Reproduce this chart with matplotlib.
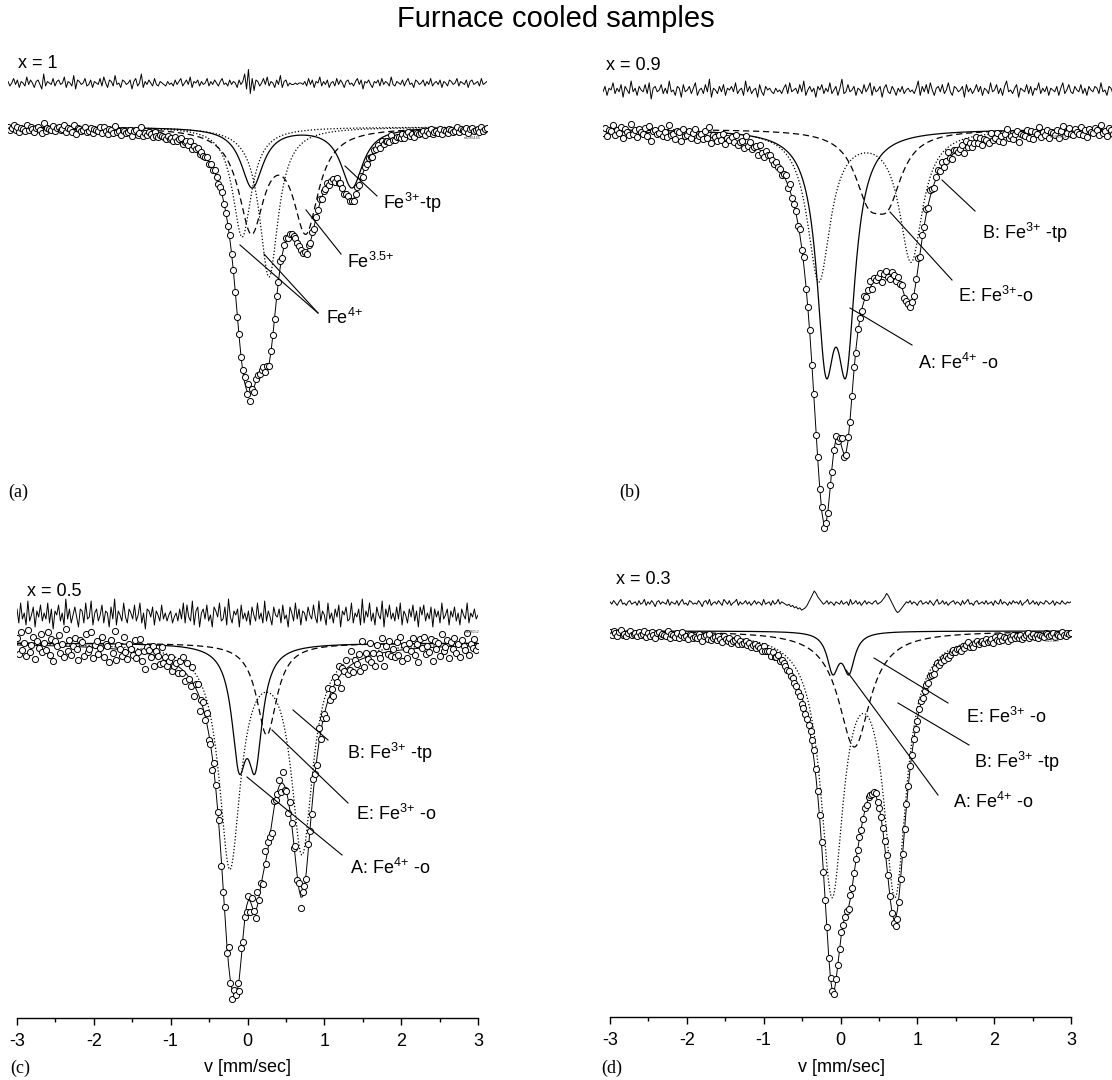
import matplotlib
matplotlib.use("Agg")
import matplotlib.pyplot as plt
import numpy as np

plt.rcParams['font.family'] = ['Liberation Sans', 'DejaVu Sans']
plt.rcParams['mathtext.fontset'] = 'custom'
plt.rcParams['mathtext.rm'] = 'Liberation Sans'
plt.rcParams['mathtext.it'] = 'Liberation Sans'
plt.rcParams['axes.unicode_minus'] = False

W, H = 1112, 1080

# Lorentzian lines: (position mm/s, depth %, FWHM mm/s)
# (a) x = 1
a_fe3_tp = [(0.06, 6.0, 0.35), (1.36, 6.0, 0.35)]
a_fe35 = [(0.05, 10.0, 0.40), (0.76, 10.0, 0.40)]
a_fe4_1 = [(-0.07, 11.0, 0.30)]
a_fe4_2 = [(0.28, 15.0, 0.30)]
# (b) x = 0.9
b_fe4_o = [(-0.39, 20.2, 0.26), (-0.15, 20.2, 0.26)]
b_fe3_tp = [(-0.47, 15.0, 0.33), (0.61, 13.0, 0.33)]
b_fe3_o = [(0.11, 5.5, 0.40), (0.34, 5.8, 0.40)]
# (c) x = 0.5
c_fe3_tp = [(-0.11, 10.6, 0.23), (0.10, 10.6, 0.23)]
c_fe3_o = [(0.25, 9.2, 0.32)]
c_fe4_o = [(-0.23, 22.0, 0.34), (0.71, 20.5, 0.34)]
# (d) x = 0.3
d_fe3_tp = [(-0.10, 3.8, 0.18), (0.11, 3.8, 0.18)]
d_fe3_o = [(0.18, 11.6, 0.50)]
d_fe4_o = [(-0.11, 25.5, 0.36), (0.71, 25.5, 0.36)]

# residuals of the fits (256 channels, arbitrary units)
a_res = [1,-2,0,3,-1,2,-3,1,0,-2,4,-1,2,0,-3,1,
         2,-1,-4,6,-2,1,0,-1,3,-2,1,2,-1,0,4,-3,
         1,0,-2,5,-4,2,1,-1,0,3,-2,-1,2,-3,1,0,
         -1,3,-2,4,0,-3,2,1,-2,5,-1,0,-3,2,1,-1,
         0,2,-4,1,3,-2,0,6,-3,1,-1,2,0,-2,3,-1,
         -2,1,0,-1,-2,1,-1,0,-2,2,-1,1,3,-2,0,2,
         -1,4,-3,1,0,2,-2,1,-1,0,3,-2,1,-1,2,0,
         -2,1,3,-1,0,-2,2,-1,1,0,-3,2,-1,1,6,-4,
         9,-7,3,-5,2,1,-2,0,3,-1,4,-2,1,0,-3,2,
         -1,5,-3,1,2,-2,0,-1,-1,0,-1,0,0,-1,1,-2,
         3,-1,2,-3,1,0,4,-2,1,-1,2,-3,0,1,-2,3,
         -1,2,0,-3,1,2,-1,0,-2,1,3,-1,2,-4,1,0,
         2,-1,-3,1,0,2,-2,3,-1,1,0,-2,4,-1,-2,1,
         0,-1,2,-2,1,3,-1,0,-3,2,1,-1,0,2,-2,1,
         -1,3,-2,0,1,-1,2,-3,1,0,-2,2,1,-1,0,3,
         -2,1,0,-1,2,-3,1,2,-1,0,1,-2,3,-1,0,1]
b_res = [-1,2,-3,1,0,4,-2,1,-1,3,-4,2,0,-2,5,-1,
         1,-3,2,0,-1,3,-2,4,-5,1,2,-1,0,3,-2,1,
         -2,5,-1,0,-3,2,1,-4,3,-1,0,2,-2,1,4,-3,
         0,1,-2,3,-1,6,-4,1,0,-2,2,-1,3,-3,1,0,
         2,-1,4,-2,0,1,-3,5,-1,2,-2,0,1,-4,3,-1,
         -3,2,0,1,-1,-2,1,-1,0,-2,1,3,-2,4,-1,0,
         1,-2,3,-1,5,-3,0,2,-1,1,-4,2,0,3,-2,1,
         -1,4,-2,0,2,-3,1,6,-2,-1,3,-1,0,2,-3,1,
         0,-2,3,-1,1,4,-3,2,-1,0,2,-4,1,3,-1,-2,
         2,0,-3,1,-1,2,-2,0,1,-1,0,-2,1,5,-3,2,
         -1,3,-2,4,0,-3,1,2,-1,3,-2,0,4,-1,-3,2,
         1,-1,0,2,-4,3,-1,1,-2,0,3,-1,2,-3,1,0,
         -2,4,-1,0,3,-2,1,-3,2,5,-1,0,-2,1,3,-4,
         1,0,-1,3,-2,2,-3,1,0,4,-2,1,-1,2,-3,1,
         0,-1,2,-3,1,4,-2,0,3,-1,-2,2,0,-1,3,-2,
         1,-3,2,0,-1,2,1,-2,4,-1,0,-3,2,1,-2,0]
c_res = [3,-4,6,-2,1,-5,7,-3,0,4,-6,2,-1,5,-3,1,
         -2,6,-4,3,-7,2,0,5,-3,1,-5,8,-2,3,-4,0,
         4,-1,-6,3,2,-4,6,-2,-1,7,-5,1,3,-3,0,5,
         -4,2,1,-6,4,-2,8,-5,2,0,-3,6,-1,-4,3,1,
         -2,5,-3,0,6,-4,1,-7,3,2,-1,4,-5,2,0,-3,
         5,-2,1,-3,0,2,-4,-1,1,-3,3,-2,6,-4,5,-1,
         -3,7,-5,2,4,-6,1,3,-2,5,-3,0,-6,4,2,-1,
         6,-3,-2,4,-5,8,-1,-4,2,0,3,-6,5,-2,1,-3,
         2,-5,4,0,-3,6,-2,1,-4,7,-3,2,-1,-5,4,0,
         -1,3,-4,5,-2,0,-6,4,1,-3,6,-2,3,-5,2,1,
         -3,4,0,-2,5,-1,-4,7,-3,2,0,-5,6,-2,1,-4,
         3,-1,5,-6,2,0,4,-3,-2,6,-4,1,-1,3,-5,8,
         -4,2,-1,6,-3,1,-5,4,0,-2,7,-6,3,-1,5,-2,
         1,-3,4,-2,6,-5,2,0,-4,3,-1,5,-3,2,-6,4,
         0,5,-3,1,-2,4,-6,3,-1,2,-4,6,-2,0,3,-5,
         2,-1,4,-3,1,-5,3,0,-2,6,-4,1,-1,3,-2,0]
d_res = [1,-1,2,0,-2,1,3,-1,0,-2,1,2,-1,0,1,-2,
         2,-1,0,3,-2,1,-1,2,0,-3,1,2,-1,1,0,-1,
         3,-2,1,0,-1,2,-2,1,3,-1,0,-2,2,1,-1,0,
         -1,2,0,-3,1,2,-1,3,-2,0,1,-1,2,0,-2,3,
         1,-1,2,-2,0,1,3,-2,1,-1,0,2,-1,1,-2,0,
         2,-1,1,0,-2,3,-1,0,1,-2,2,-1,0,3,-1,1,
         0,-1,-2,-1,-3,-2,-4,-3,-5,-4,-6,-5,-4,-2,1,4,
         7,10,8,5,3,1,-1,0,2,-1,1,0,-2,1,0,-1,
         2,-1,0,1,-2,3,-1,0,2,-1,1,-2,0,2,-1,1,
         0,-1,1,2,-1,0,1,3,5,8,6,3,0,-3,-6,-8,
         -7,-5,-3,-1,1,0,2,-1,1,0,-2,1,2,-1,0,1,
         -1,2,0,-2,1,3,-1,0,2,-1,1,-2,0,1,2,-1,
         1,0,-2,2,-1,1,3,-1,0,-2,1,2,-1,0,1,-1,
         2,-1,0,1,-2,2,0,-1,3,-1,1,0,-2,1,-1,2,
         0,1,-1,2,-2,0,1,3,-1,0,2,-1,1,-2,1,0,
         -1,2,1,-1,0,2,-2,1,0,-1,2,0,-1,1,0,1]


def absorption(v, lines):
    out = np.zeros_like(v)
    for pos, depth, fwhm in lines:
        hw = fwhm / 2.0
        out += depth * hw ** 2 / ((v - pos) ** 2 + hw ** 2)
    return out


SOLID = dict(color='black', lw=0.9, ls='-')
DASH = dict(color='black', lw=0.9, ls=(0, (5, 3)))
DOT = dict(color='black', lw=0.9, ls=(0, (1, 1.6)))

fig = plt.figure(figsize=(W / 100, H / 100), dpi=100)


def px_axes(l, r, t, b):
    return fig.add_axes([l / W, 1 - b / H, (r - l) / W, (b - t) / H])


panels = [
    dict(box=(8, 487, 40, 430), xlim=(-3.12, 3.12), base=127,
         comps=[(a_fe3_tp, SOLID), (a_fe35, DASH), (a_fe4_1, DOT), (a_fe4_2, DOT)],
         res=a_res, roff=4.4, rg=0.15, dg=0.10, scale=0.95, axis=False),
    dict(box=(603, 1115, 40, 540), xlim=(-3.0, 3.0), base=129,
         comps=[(b_fe4_o, SOLID), (b_fe3_tp, DOT), (b_fe3_o, DASH)],
         res=b_res, roff=3.9, rg=0.18, dg=0.16, scale=1.03, axis=False),
    dict(box=(17, 478, 560, 1018), xlim=(-3.0, 3.0), base=643,
         comps=[(c_fe3_tp, SOLID), (c_fe3_o, DASH), (c_fe4_o, DOT)],
         res=c_res, roff=2.8, rg=0.20, dg=0.22, scale=1.12, axis=True),
    dict(box=(610, 1071, 560, 1017), xlim=(-3.0, 3.0), base=631,
         comps=[(d_fe3_tp, SOLID), (d_fe3_o, DASH), (d_fe4_o, DOT)],
         res=d_res, roff=2.8, rg=0.12, dg=0.12, scale=1.0, axis=True),
]

for p in panels:
    l, r, t, b = p['box']
    ax = px_axes(l, r, t, b)
    ax.set_xlim(*p['xlim'])
    ax.set_ylim(100 - (b - p['base']) / 10.0, 100 + (p['base'] - t) / 10.0)
    v = np.linspace(p['xlim'][0], p['xlim'][1], 256)
    vf = np.linspace(p['xlim'][0], p['xlim'][1], 1500)
    total = np.zeros_like(v)
    for lines, st in p['comps']:
        ax.plot(vf, 100 - absorption(vf, lines), **st)
        total += absorption(v, lines)
    res = np.array(p['res'], dtype=float)
    fit = 100 - p['scale'] * total
    ax.plot(v, fit, color='black', lw=0.7)
    ax.plot(v, fit + res * p['dg'], ls='none', marker='o', ms=4.4,
            mfc='white', mec='black', mew=0.7)
    ax.plot(v, 100 + p['roff'] + res * p['rg'], color='black', lw=0.7)
    for s in ['top', 'left', 'right']:
        ax.spines[s].set_visible(False)
    ax.set_yticks([])
    if p['axis']:
        ax.spines['bottom'].set_linewidth(1.0)
        ax.set_xticks(np.arange(-3, 4, 1))
        ax.set_xticks(np.arange(-2.5, 3, 1), minor=True)
        ax.set_xticklabels([str(k) for k in range(-3, 4)], fontsize=13)
        ax.tick_params(axis='x', which='major', direction='out', length=5, width=1, pad=6)
        ax.tick_params(axis='x', which='minor', direction='out', length=3, width=1)
    else:
        ax.spines['bottom'].set_visible(False)
        ax.set_xticks([])
    ax.patch.set_alpha(0)

# overlay in figure pixels for labels and leader lines
ov = fig.add_axes([0, 0, 1, 1])
ov.set_xlim(0, W)
ov.set_ylim(H, 0)
ov.axis('off')
ov.patch.set_alpha(0)

ov.text(556, 19, 'Furnace cooled samples', fontsize=21, ha='center', va='center')
for txt, x, y in [('x = 1', 18, 64), ('x = 0.9', 606, 66), ('x = 0.5', 27, 592), ('x = 0.3', 616, 580)]:
    ov.text(x, y, txt, fontsize=13, ha='left', va='center')
for txt, x, y in [('(a)', 8, 492), ('(b)', 619, 492), ('(c)', 10, 1068), ('(d)', 601, 1068)]:
    ov.text(x, y, txt, fontsize=13, ha='left', va='center', family='Liberation Serif')
for x in (247, 841):
    ov.text(x, 1068, 'v [mm/sec]', fontsize=13, ha='center', va='center')

labels = [
    (r'Fe$^{3{+}}$-tp', 383, 203), (r'Fe$^{3.5{+}}$', 347, 262), (r'Fe$^{4{+}}$', 326, 318),
    (r'B: Fe$^{3{+}}$ -tp', 982, 233), (r'E: Fe$^{3{+}}$-o', 958, 296), (r'A: Fe$^{4{+}}$ -o', 918, 363),
    (r'B: Fe$^{3{+}}$ -tp', 347, 753), (r'E: Fe$^{3{+}}$ -o', 356, 814), (r'A: Fe$^{4{+}}$ -o', 350, 868),
    (r'E: Fe$^{3{+}}$ -o', 966, 717), (r'B: Fe$^{3{+}}$ -tp', 974, 762), (r'A: Fe$^{4{+}}$ -o', 953, 802),
]
for txt, x, y in labels:
    ov.text(x, y, txt, fontsize=13, ha='left', va='center')

leaders = [
    ((345, 166), (377, 196)), ((306, 210), (341, 254)),
    ((240, 245), (318, 313)), ((264, 254), (318, 313)),
    ((942, 180), (975, 211)), ((890, 212), (952, 280)), ((850, 308), (912, 345)),
    ((293, 710), (328, 740)), ((272, 730), (348, 803)), ((247, 777), (342, 855)),
    ((874, 658), (948, 703)), ((898, 703), (969, 745)), ((846, 670), (938, 795)),
]
for (x0, y0), (x1, y1) in leaders:
    ov.plot([x0, x1], [y0, y1], color='black', lw=0.8)

for txt, x, y in [('m090445', 472, 138), ('m090961', 1058, 137), ('M09052', 472, 632), ('M10109', 1052, 641)]:
    ov.text(x, y, txt, fontsize=3, ha='center', va='center', color='0.3')

fig.savefig('out.png', dpi=100)
